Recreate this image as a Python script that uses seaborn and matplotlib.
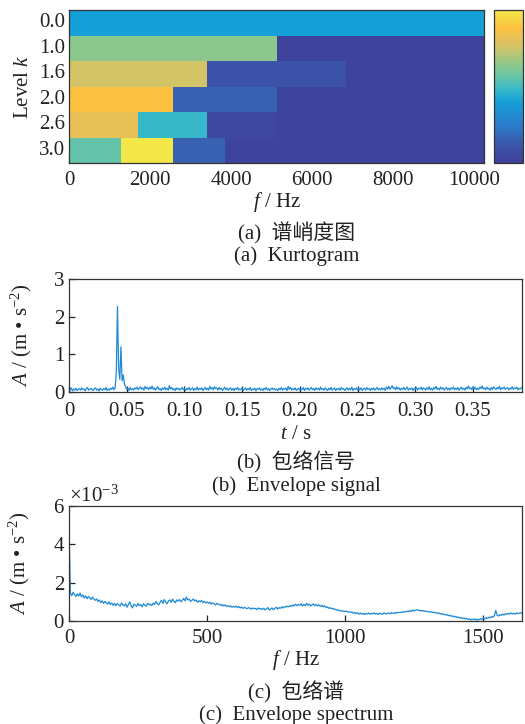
import numpy as np
import pandas as pd
import matplotlib
matplotlib.use("Agg")
import matplotlib.pyplot as plt
from matplotlib.colors import LinearSegmentedColormap
from matplotlib.ticker import ScalarFormatter
import seaborn as sns

# ---------------- data ----------------
# Kurtogram (normalised spectral kurtosis per band, per level)
levels = ["0.0", "1.0", "1.6", "2.0", "2.6", "3.0"]
level0 = [0.40]
level1 = [0.64, 0.02]
level16 = [0.76, 0.10, 0.02]
level2 = [0.88, 0.16, 0.02, 0.02]
level26 = [0.82, 0.48, 0.05, 0.02, 0.02, 0.02]
level3 = [0.56, 1.00, 0.16, 0.02, 0.02, 0.02, 0.02, 0.02]
f_max_kurt = 10240
kurt_xticks = [0, 2000, 4000, 6000, 8000, 10000]

# Envelope signal (sampled every 1 ms)
env_dt = 0.001
env_vals = [
    0.15, 0.06, 0.11, 0.03, 0.08, 0.05, 0.10, 0.04, 0.07, 0.09,
    0.05, 0.11, 0.06, 0.08, 0.03, 0.09, 0.12, 0.05, 0.07, 0.10,
    0.06, 0.04, 0.09, 0.11, 0.05, 0.08, 0.03, 0.10, 0.07, 0.05,
    0.09, 0.06, 0.12, 0.04, 0.08, 0.05, 0.10, 0.07, 0.13, 0.06,
    0.12, 0.55, 2.27, 0.62, 0.34, 1.20, 0.30, 0.45, 0.22, 0.14,
    0.07, 0.10, 0.04, 0.12, 0.06, 0.09, 0.05, 0.11, 0.08, 0.13,
    0.06, 0.10, 0.14, 0.07, 0.11, 0.05, 0.15, 0.09, 0.12, 0.06,
    0.13, 0.08, 0.16, 0.07, 0.11, 0.05, 0.10, 0.14, 0.06, 0.09,
    0.04, 0.11, 0.07, 0.13, 0.06, 0.10, 0.05, 0.17, 0.08, 0.12,
    0.06, 0.09, 0.04, 0.11, 0.07, 0.10, 0.05, 0.08, 0.12, 0.06,
    0.09, 0.04, 0.10, 0.06, 0.12, 0.05, 0.08, 0.11, 0.04, 0.09,
    0.06, 0.13, 0.05, 0.10, 0.07, 0.11, 0.04, 0.08, 0.12, 0.06,
    0.10, 0.05, 0.15, 0.08, 0.12, 0.06, 0.14, 0.09, 0.11, 0.05,
    0.12, 0.07, 0.10, 0.04, 0.09, 0.13, 0.06, 0.10, 0.05, 0.08,
    0.11, 0.05, 0.09, 0.04, 0.10, 0.07, 0.12, 0.05, 0.08, 0.06,
    0.10, 0.04, 0.08, 0.11, 0.05, 0.09, 0.06, 0.12, 0.04, 0.08,
    0.06, 0.10, 0.03, 0.09, 0.07, 0.11, 0.05, 0.08, 0.04, 0.10,
    0.07, 0.12, 0.05, 0.09, 0.04, 0.08, 0.11, 0.06, 0.09, 0.05,
    0.08, 0.04, 0.10, 0.06, 0.12, 0.05, 0.09, 0.07, 0.11, 0.04,
    0.15, 0.07, 0.12, 0.05, 0.09, 0.06, 0.11, 0.04, 0.08, 0.10,
    0.05, 0.09, 0.06, 0.12, 0.04, 0.10, 0.07, 0.11, 0.05, 0.08,
    0.12, 0.06, 0.09, 0.04, 0.11, 0.07, 0.10, 0.05, 0.13, 0.06,
    0.09, 0.05, 0.11, 0.07, 0.04, 0.10, 0.06, 0.12, 0.05, 0.08,
    0.11, 0.04, 0.09, 0.06, 0.10, 0.05, 0.12, 0.07, 0.09, 0.04,
    0.08, 0.11, 0.05, 0.10, 0.06, 0.13, 0.04, 0.09, 0.07, 0.11,
    0.05, 0.09, 0.06, 0.11, 0.04, 0.08, 0.10, 0.05, 0.12, 0.07,
    0.09, 0.04, 0.10, 0.06, 0.11, 0.05, 0.08, 0.12, 0.06, 0.09,
    0.05, 0.11, 0.07, 0.10, 0.04, 0.13, 0.08, 0.15, 0.07, 0.11,
    0.17, 0.09, 0.12, 0.06, 0.14, 0.08, 0.11, 0.05, 0.10, 0.07,
    0.12, 0.06, 0.09, 0.13, 0.05, 0.10, 0.07, 0.11, 0.04, 0.09,
    0.07, 0.12, 0.05, 0.10, 0.08, 0.13, 0.06, 0.11, 0.09, 0.05,
    0.11, 0.07, 0.14, 0.06, 0.10, 0.05, 0.12, 0.08, 0.15, 0.07,
    0.10, 0.06, 0.13, 0.08, 0.11, 0.05, 0.09, 0.12, 0.06, 0.10,
    0.05, 0.11, 0.08, 0.13, 0.06, 0.10, 0.07, 0.12, 0.05, 0.09,
    0.13, 0.07, 0.10, 0.05, 0.12, 0.08, 0.16, 0.09, 0.11, 0.06,
    0.14, 0.08, 0.12, 0.06, 0.10, 0.07, 0.13, 0.09, 0.16, 0.08,
    0.11, 0.06, 0.13, 0.08, 0.10, 0.05, 0.12, 0.07, 0.14, 0.09,
    0.07, 0.12, 0.08, 0.15, 0.06, 0.11, 0.09, 0.13, 0.07, 0.10,
    0.12, 0.06, 0.10, 0.08, 0.14, 0.07, 0.11, 0.09, 0.13, 0.06,
    0.10, 0.08, 0.12,
]
env_xticks = [0, 0.05, 0.10, 0.15, 0.20, 0.25, 0.30, 0.35]
env_xticklabels = ["0", "0.05", "0.10", "0.15", "0.20", "0.25", "0.30", "0.35"]

# Envelope spectrum (5 Hz resolution), values in units of 1e-3 m/s^2
spec_df = 5
spec_vals_milli = [
    4.95, 1.45, 1.32, 1.50, 1.38, 1.28, 1.42, 1.30, 1.46, 1.26, 1.36, 1.20, 1.32, 1.16, 1.28, 1.22, 1.12, 1.25, 1.15, 1.08,
    1.15, 1.02, 1.10, 0.96, 1.05, 0.92, 1.02, 0.95, 0.88, 1.00, 0.86, 0.94, 0.82, 0.92, 0.80, 0.90, 0.85, 0.78, 0.94, 0.84,
    0.78, 0.90, 0.72, 0.86, 1.00, 0.80, 0.68, 0.88, 0.82, 0.76, 0.92, 0.80, 0.86, 0.74, 0.90, 0.82, 0.78, 0.92, 0.84, 0.88,
    0.80, 0.94, 0.86, 1.02, 0.90, 0.84, 0.98, 1.08, 0.92, 1.12, 0.98, 0.90, 1.05, 1.10, 0.98, 1.14, 1.02, 0.96, 1.10, 1.04,
    1.12, 1.00, 1.08, 1.18, 1.05, 1.25, 1.10, 1.14, 1.02, 1.08, 1.15, 1.04, 1.10, 0.98, 1.06, 1.00, 1.08, 0.96, 1.02, 0.94,
    1.00, 0.92, 0.98, 0.88, 0.95, 0.90, 0.84, 0.92, 0.86, 0.88, 0.80, 0.86, 0.78, 0.84, 0.76, 0.80, 0.74, 0.79, 0.72, 0.76,
    0.72, 0.78, 0.70, 0.75, 0.68, 0.73, 0.66, 0.71, 0.68, 0.64, 0.70, 0.66, 0.62, 0.68, 0.64, 0.66, 0.60, 0.68, 0.62, 0.66,
    0.60, 0.66, 0.58, 0.64, 0.70, 0.56, 0.64, 0.68, 0.58, 0.66, 0.72, 0.62, 0.70, 0.66, 0.74, 0.68, 0.76, 0.72, 0.78, 0.74,
    0.80, 0.76, 0.84, 0.78, 0.88, 0.80, 0.86, 0.82, 0.90, 0.78, 0.86, 0.80, 0.92, 0.82, 0.88, 0.78, 0.84, 0.90, 0.80, 0.86,
    0.78, 0.84, 0.76, 0.82, 0.74, 0.80, 0.70, 0.74, 0.66, 0.70, 0.64, 0.66, 0.60, 0.62, 0.56, 0.58, 0.52, 0.55, 0.50, 0.52,
    0.48, 0.52, 0.46, 0.49, 0.44, 0.47, 0.40, 0.45, 0.38, 0.43, 0.36, 0.42, 0.35, 0.40, 0.34, 0.39, 0.36, 0.42, 0.35, 0.40,
    0.37, 0.42, 0.36, 0.40, 0.34, 0.41, 0.37, 0.35, 0.43, 0.39, 0.36, 0.42, 0.38, 0.44, 0.40, 0.43, 0.38, 0.46, 0.42, 0.45,
    0.44, 0.48, 0.45, 0.50, 0.47, 0.52, 0.49, 0.55, 0.50, 0.58, 0.52, 0.56, 0.60, 0.54, 0.57, 0.52, 0.55, 0.50, 0.53, 0.48,
    0.50, 0.46, 0.49, 0.44, 0.47, 0.42, 0.45, 0.38, 0.42, 0.36, 0.39, 0.33, 0.36, 0.30, 0.33, 0.27, 0.30, 0.24, 0.27, 0.20,
    0.24, 0.18, 0.21, 0.15, 0.19, 0.12, 0.16, 0.10, 0.14, 0.08, 0.12, 0.05, 0.10, 0.07, 0.11, 0.04, 0.09, 0.06, 0.12, 0.08,
    0.14, 0.10, 0.17, 0.13, 0.20, 0.16, 0.24, 0.20, 0.28, 0.55, 0.30, 0.26, 0.33, 0.29, 0.36, 0.31, 0.38, 0.34, 0.40, 0.36,
    0.42, 0.37, 0.40, 0.35, 0.43, 0.38, 0.41, 0.44, 0.39, 0.42,
]
spec_xticks = [0, 500, 1000, 1500]
spec_yticks = [0, 0.002, 0.004, 0.006]

captions = [
    ("(a)  谱峭度图", "(a)  Kurtogram"),
    ("(b)  包络信号", "(b)  Envelope signal"),
    ("(c)  包络谱", "(c)  Envelope spectrum"),
]

# ---------------- style ----------------
sns.set_theme(style="ticks")
plt.rcParams["font.family"] = ["Liberation Serif", "Noto Sans CJK SC"]
plt.rcParams["mathtext.fontset"] = "custom"
plt.rcParams["mathtext.rm"] = "Liberation Serif"
plt.rcParams["mathtext.it"] = "Liberation Serif:italic"
plt.rcParams["axes.edgecolor"] = "#333333"
plt.rcParams["axes.linewidth"] = 0.9
FS = 15
LINE_C = "#1f8ad6"
TXT_C = "#222222"

parula_print = LinearSegmentedColormap.from_list(
    "parula_print",
    [(0.00, "#3f3f98"), (0.10, "#3c52a8"), (0.16, "#3862b2"), (0.25, "#2a7ccc"),
     (0.40, "#16a0d8"), (0.48, "#38b8c8"), (0.56, "#64c4aa"), (0.64, "#8cc88c"),
     (0.76, "#d4c468"), (0.82, "#e8c058"), (0.88, "#fcc040"), (1.00, "#f4e848")],
)

fig = plt.figure(figsize=(5.25, 7.24), dpi=100)
W, H = 525, 724

def box(l, t, r, b):
    return [l / W, 1 - b / H, (r - l) / W, (b - t) / H]

ax_a = fig.add_axes(box(69, 10, 484, 163))
cax = fig.add_axes(box(494, 10, 523, 163))
ax_b = fig.add_axes(box(69, 279, 522, 392))
ax_c = fig.add_axes(box(69, 506, 522, 621))

# ---------------- (a) kurtogram ----------------
ncol = 24
rows = [level0, level1, level16, level2, level26, level3]
grid = np.array([np.repeat(r, ncol // len(r)) for r in rows])
kdf = pd.DataFrame(grid, index=levels)
sns.heatmap(kdf, ax=ax_a, cmap=parula_print, vmin=0, vmax=1, cbar_ax=cax,
            xticklabels=False, yticklabels=levels, linewidths=0)
ax_a.set_xticks([f * ncol / f_max_kurt for f in kurt_xticks])
ax_a.set_xticklabels([str(f) for f in kurt_xticks])
ax_a.set_yticks(np.arange(len(levels)) + 0.5)
ax_a.set_yticklabels(levels, rotation=0)
for s in ax_a.spines.values():
    s.set_visible(True)
    s.set_color("#333333")
    s.set_linewidth(0.9)
ax_a.tick_params(direction="in", length=4, width=0.9, labelsize=FS,
                 colors="#222222", pad=3, top=False, right=True)
ax_a.tick_params(axis="x", pad=6)
ax_a.set_xlabel(r"$f$ / Hz", fontsize=FS, color=TXT_C, labelpad=0)
ax_a.set_ylabel(r"Level $k$", fontsize=FS, color=TXT_C, labelpad=4)

cb = ax_a.collections[0].colorbar
cb.set_ticks([0.2, 0.4, 0.6, 0.8])
cb.ax.tick_params(direction="in", length=4, width=0.9, labelright=False,
                  right=True, left=False, colors="#222222")
cb.outline.set_edgecolor("#333333")
cb.outline.set_linewidth(0.9)

# ---------------- (b) envelope signal ----------------
t_vals = np.arange(len(env_vals)) * env_dt
bdf = pd.DataFrame({"t": t_vals, "A": env_vals})
sns.lineplot(data=bdf, x="t", y="A", ax=ax_b, color=LINE_C, linewidth=0.9,
             estimator=None, sort=False)
ax_b.set_xlim(0, 0.3925)
ax_b.set_ylim(0, 3)
ax_b.set_xticks(env_xticks)
ax_b.set_xticklabels(env_xticklabels)
ax_b.set_yticks([0, 1, 2, 3])
ax_b.set_yticklabels(["0", "1", "2", "3"])
ax_b.tick_params(direction="in", length=4, width=0.9, labelsize=FS,
                 colors="#222222", pad=3)
ax_b.tick_params(axis="x", pad=7)
ax_b.set_xlabel(r"$t$ / s", fontsize=FS, color=TXT_C, labelpad=3)
ax_b.set_ylabel(r"$A$ / (m • s$^{-2}$)", fontsize=FS, color=TXT_C, labelpad=15)
for s in ax_b.spines.values():
    s.set_visible(True)

# ---------------- (c) envelope spectrum ----------------
f_vals = np.arange(len(spec_vals_milli)) * spec_df
cdf = pd.DataFrame({"f": f_vals, "A": np.array(spec_vals_milli) * 1e-3})
sns.lineplot(data=cdf, x="f", y="A", ax=ax_c, color=LINE_C, linewidth=0.9,
             estimator=None, sort=False)
ax_c.set_xlim(0, 1640)
ax_c.set_ylim(0, 0.006)
ax_c.set_xticks(spec_xticks)
ax_c.set_yticks(spec_yticks)
fmt = ScalarFormatter(useMathText=True)
fmt.set_powerlimits((-2, 2))
ax_c.yaxis.set_major_formatter(fmt)
ax_c.yaxis.get_offset_text().set_fontsize(FS)
ax_c.yaxis.get_offset_text().set_color(TXT_C)
ax_c.tick_params(direction="in", length=4, width=0.9, labelsize=FS,
                 colors="#222222", pad=3)
ax_c.tick_params(axis="x", pad=6)
ax_c.set_xlabel(r"$f$ / Hz", fontsize=FS, color=TXT_C, labelpad=0)
ax_c.set_ylabel(r"$A$ / (m • s$^{-2}$)", fontsize=FS, color=TXT_C, labelpad=15)
for s in ax_c.spines.values():
    s.set_visible(True)

# ---------------- captions ----------------
cap_pos = [(297, 233, 256), (296, 462, 486), (296, 692, 715)]
for (cn, en), (x, y1, y2) in zip(captions, cap_pos):
    fig.text(x / W, 1 - y1 / H, cn, ha="center", va="center", fontsize=FS, color=TXT_C)
    fig.text(x / W, 1 - y2 / H, en, ha="center", va="center", fontsize=FS, color=TXT_C)

fig.savefig("out.png", dpi=100)
